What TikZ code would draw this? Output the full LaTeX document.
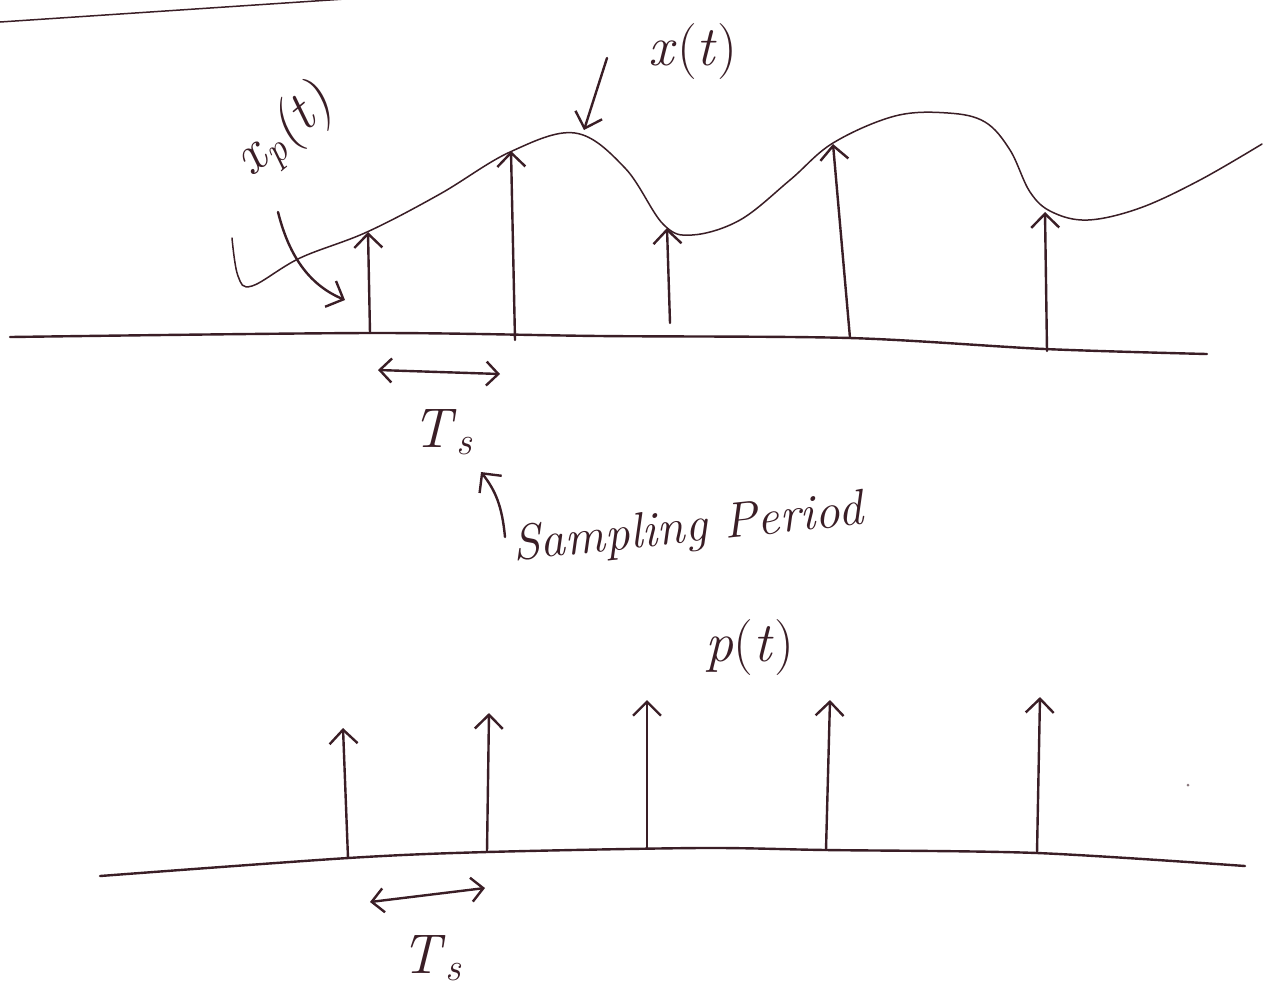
\documentclass[tikz,border=0pt]{standalone}
\usepackage{fontspec}
\usetikzlibrary{arrows.meta}
\definecolor{ink}{RGB}{58,30,38}

\newcommand{\vi}[1]{\textit{#1}}

\begin{document}
\begin{tikzpicture}[
  x=0.5pt,
  y=-0.5pt,
  pen/.style={ink,line width=1.2pt,line cap=round,line join=round},
  fine pen/.style={ink,line width=0.75pt,line cap=round,line join=round},
  tip/.style={-{Straight Barb[length=7pt,width=14pt]}},
  both tips/.style={{Straight Barb[length=6pt,width=12pt]}-{Straight Barb[length=6pt,width=12pt]}},
  hand/.style={text=ink,inner sep=0pt,font=\fontsize{28}{32}\selectfont}
]
  \path[fill=white,use as bounding box] (0,0) rectangle (1264,993);

  % Edge of the sheet.
  \draw[fine pen] (0,22) -- (345,-1);

  % Signal x(t) and the time axis.
  \draw[fine pen] plot[smooth,tension=0.6] coordinates {
    (232,238) (238,276) (252,286) (300,258) (367,232) (440,194)
    (510,152) (575,133) (625,168) (663,224) (692,235) (740,220)
    (790,180) (833,143) (895,116) (948,113) (985,122) (1010,150)
    (1030,192) (1052,212) (1088,220) (1140,208) (1200,180)
    (1262,144)};
  \draw[pen] plot[smooth,tension=0.5] coordinates {
    (10,337) (370,333) (600,336) (850,338) (1045,349) (1207,354)};

  % Samples of x(t).
  \foreach \i/\bx/\by/\tx/\ty in
    {1/370/333/368/232,2/515/340/511/151,3/670/323/667/228,
     4/850/338/833/144,5/1047/351/1045/212}
    {
      \coordinate (tb\i) at (\bx,\by);
      \coordinate (tt\i) at (\tx,\ty);
      \draw[pen,tip] (tb\i) -- (tt\i);
    }

  % Labels of the upper plot.
  \node[hand] (xlab) at (693,52) {\vi{x}(\vi{t})};
  \coordinate (xfrom) at (607,58);
  \coordinate (xpeak) at (584,130);
  \draw[pen,tip] (xfrom) -- (xpeak);

  \node[hand,rotate=40] (xplab) at (285,132)
    {\textit{x\textsubscript{p}(t)}};
  \coordinate (xpfrom) at (278,212);
  \coordinate (xpto) at (345,300);
  \draw[pen,tip] (xpfrom) .. controls (290,260) and (312,286) .. (xpto);

  \coordinate (ts1l) at (378,370);
  \coordinate (ts1r) at (500,374);
  \draw[pen,both tips] (ts1l) -- (ts1r);
  \node[hand] (ts1) at (443,432) {\vi{T}\textsubscript{\vi{s}}};

  \node[hand,rotate=6,font=\itshape\fontsize{25}{30}\selectfont]
    (samp) at (688,530) {Sampling Period};
  \coordinate (sampfrom) at (505,537);
  \coordinate (sampto) at (481,472);
  \draw[pen,tip] (sampfrom) .. controls (502,505) and (495,490) .. (sampto);

  % Impulse train p(t).
  \node[hand] (plab) at (750,648) {\vi{p}(\vi{t})};
  \draw[pen] plot[smooth,tension=0.5] coordinates {
    (100,876) (348,858) (487,852) (700,848) (826,850) (1037,853)
    (1245,866)};
  \foreach \i/\bx/\by/\tx/\ty in
    {1/348/858/343/728,2/487/852/489/713,3/647/848/647/700,
     4/826/850/830/700,5/1037/853/1040/697}
    {
      \coordinate (pb\i) at (\bx,\by);
      \coordinate (pt\i) at (\tx,\ty);
      \draw[pen,tip] (pb\i) -- (pt\i);
    }
  \coordinate (ts2l) at (370,902);
  \coordinate (ts2r) at (485,888);
  \draw[pen,both tips] (ts2l) -- (ts2r);
  \node[hand] (ts2) at (432,958) {\vi{T}\textsubscript{\vi{s}}};

  \fill[ink!60] (1188,785) circle[radius=1.5];
\end{tikzpicture}
\end{document}
